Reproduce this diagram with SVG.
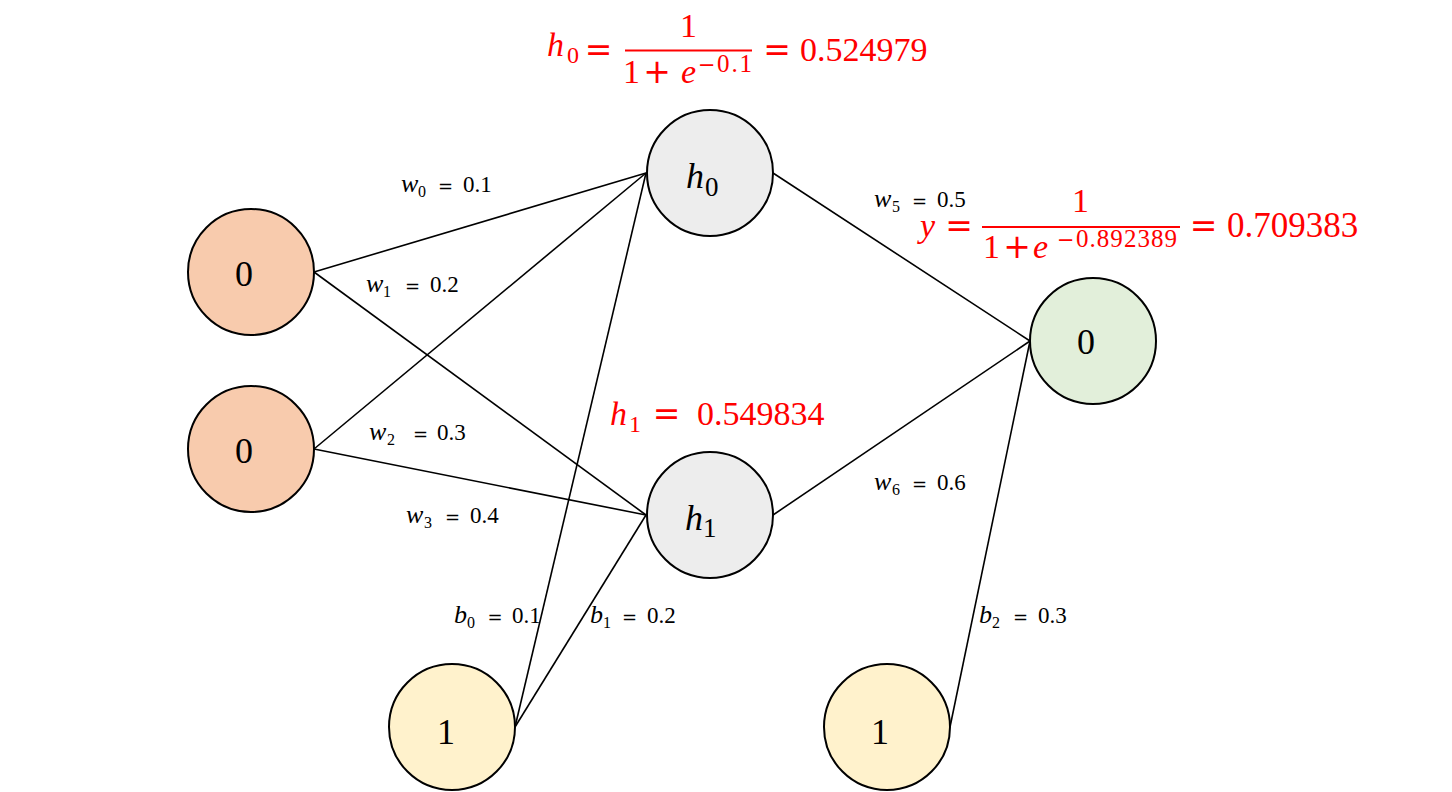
<svg xmlns="http://www.w3.org/2000/svg" width="1452" height="792" viewBox="0 0 1452 792">
<style>
text{font-family:"Liberation Serif","Times New Roman",serif;fill:#000}
.node{stroke:#000;stroke-width:2}
.in{fill:#F8CBAD}.hid{fill:#EDEDED}.out{fill:#E2EFDA}.bias{fill:#FFF2CC}
.nt{font-size:36px;text-anchor:middle}
.ni{font-style:italic;font-size:36px}
.ns{font-size:27px}
.lbl{font-size:23px}
.lbl .v{font-style:italic;font-size:26px}
.lbl .s{font-size:16px}
.op{font-family:"DejaVu Sans",sans-serif;text-anchor:middle}
.lbl .op{font-size:18px}
.red{fill:#FF0000;font-size:34px}
.red .op{font-size:33px}
.red .v{font-style:italic}
.red .sup{font-size:25px}
.red .mn{font-family:"DejaVu Sans",sans-serif;font-size:21px}
.red .sub{font-size:24px}
.conn line{stroke:#000;stroke-width:1.6}
.bar{stroke:#FF0000;stroke-width:2}
</style>
<rect width="1452" height="792" fill="#fff"/>
<g id="connectors" class="conn">
<line x1="314" y1="272" x2="646" y2="173"/>
<line x1="314" y1="272" x2="646" y2="515"/>
<line x1="314" y1="449" x2="646" y2="173"/>
<line x1="314" y1="449" x2="646" y2="515"/>
<line x1="515" y1="727" x2="646" y2="173"/>
<line x1="515" y1="727" x2="646" y2="515"/>
<line x1="773" y1="173" x2="1030" y2="341"/>
<line x1="773" y1="515" x2="1030" y2="341"/>
<line x1="950" y1="727" x2="1030" y2="341"/>
</g>
<g id="input0"><circle class="node in" cx="251" cy="272" r="63"/><text class="nt" x="244" y="286">0</text></g>
<g id="input1"><circle class="node in" cx="251" cy="449" r="63"/><text class="nt" x="244" y="463">0</text></g>
<g id="hidden0"><circle class="node hid" cx="710" cy="173" r="63"/><text><tspan class="ni" x="686" y="188">h</tspan><tspan class="ns" x="705" y="196">0</tspan></text></g>
<g id="hidden1"><circle class="node hid" cx="710" cy="515" r="63"/><text><tspan class="ni" x="685" y="530">h</tspan><tspan class="ns" x="703" y="537">1</tspan></text></g>
<g id="output"><circle class="node out" cx="1093" cy="341" r="63"/><text class="nt" x="1086" y="354">0</text></g>
<g id="bias0"><circle class="node bias" cx="452" cy="727" r="63"/><text class="nt" x="446" y="744">1</text></g>
<g id="bias1"><circle class="node bias" cx="887" cy="727" r="63"/><text class="nt" x="880" y="744">1</text></g>
<g id="weight-labels">
<text class="lbl"><tspan class="v" x="401" y="192">w</tspan><tspan class="s" x="418" y="197">0</tspan><tspan class="op" x="445.5" y="192">=</tspan><tspan x="463" y="192">0.1</tspan></text>
<text class="lbl"><tspan class="v" x="366" y="292">w</tspan><tspan class="s" x="383" y="297">1</tspan><tspan class="op" x="412.5" y="292">=</tspan><tspan x="430" y="292">0.2</tspan></text>
<text class="lbl"><tspan class="v" x="369" y="440">w</tspan><tspan class="s" x="387" y="445">2</tspan><tspan class="op" x="420.5" y="440">=</tspan><tspan x="437" y="440">0.3</tspan></text>
<text class="lbl"><tspan class="v" x="406" y="523">w</tspan><tspan class="s" x="424" y="528">3</tspan><tspan class="op" x="452.5" y="523">=</tspan><tspan x="470" y="523">0.4</tspan></text>
<text class="lbl"><tspan class="v" x="454" y="623">b</tspan><tspan class="s" x="467" y="628">0</tspan><tspan class="op" x="495" y="623">=</tspan><tspan x="512" y="623">0.1</tspan></text>
<text class="lbl"><tspan class="v" x="590" y="623">b</tspan><tspan class="s" x="603" y="628">1</tspan><tspan class="op" x="629.5" y="623">=</tspan><tspan x="647" y="623">0.2</tspan></text>
<text class="lbl"><tspan class="v" x="874" y="207">w</tspan><tspan class="s" x="892" y="212">5</tspan><tspan class="op" x="919.5" y="207">=</tspan><tspan x="937" y="207">0.5</tspan></text>
<text class="lbl"><tspan class="v" x="874" y="490">w</tspan><tspan class="s" x="892" y="495">6</tspan><tspan class="op" x="919.5" y="490">=</tspan><tspan x="937" y="490">0.6</tspan></text>
<text class="lbl"><tspan class="v" x="979" y="623">b</tspan><tspan class="s" x="992" y="628">2</tspan><tspan class="op" x="1020.5" y="623">=</tspan><tspan x="1038" y="623">0.3</tspan></text>
</g>
<g id="formula-h0">
<line class="bar" x1="625" y1="50.5" x2="752" y2="50.5"/>
<text class="red"><tspan class="v" x="547" y="56">h</tspan><tspan class="sub" x="567" y="63">0</tspan><tspan class="op" x="598.5" y="61">=</tspan><tspan x="680" y="37">1</tspan><tspan x="623" y="83">1</tspan><tspan class="op" x="657" y="83">+</tspan><tspan class="v" x="681" y="83">e</tspan><tspan class="mn" x="698" y="72">−</tspan><tspan class="sup" x="717" y="72" textLength="35">0.1</tspan><tspan class="op" x="777" y="61">=</tspan><tspan x="800" y="61">0.524979</tspan></text>
</g>
<g id="formula-h1">
<text class="red"><tspan class="v" x="610" y="425">h</tspan><tspan class="sub" x="629" y="432">1</tspan><tspan class="op" x="666.5" y="425">=</tspan><tspan x="697" y="425">0.549834</tspan></text>
</g>
<g id="formula-y">
<line class="bar" x1="982" y1="227" x2="1180" y2="227"/>
<text class="red"><tspan class="v" x="920" y="237">y</tspan><tspan class="op" x="959" y="237">=</tspan><tspan x="1072" y="212">1</tspan><tspan x="983" y="258">1</tspan><tspan class="op" x="1017" y="258">+</tspan><tspan class="v" x="1033" y="258">e</tspan><tspan class="mn" x="1057" y="247">−</tspan><tspan class="sup" x="1076" y="247" textLength="101">0.892389</tspan><tspan class="op" x="1203.5" y="237">=</tspan><tspan x="1227" y="237" font-size="35">0.709383</tspan></text>
</g>
</svg>
